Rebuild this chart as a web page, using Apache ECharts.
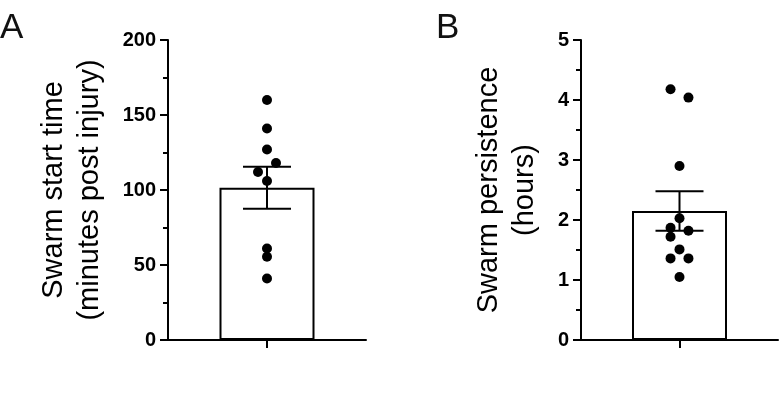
<!DOCTYPE html>
<html>
<head>
<meta charset="utf-8">
<script src="https://cdn.jsdelivr.net/npm/echarts@6/dist/echarts.min.js"></script>
<style>html,body{margin:0;padding:0;background:#fff}#c{width:779px;height:397px}</style>
</head>
<body>
<div id="c"></div>
<script>
// ---- Data ----
// Panel A: Swarm start time (minutes post injury)
const startTimeValues = [160, 141, 127, 118, 112, 106, 61, 55.5, 41];
const startTimeJitter = [0, 0, 0, 1, -1, 0, 0, 0, 0];
const startTimeMean = 101.5;
const startTimeSEM = 14;
const startTimeTicks = [0, 50, 100, 150, 200];

// Panel B: Swarm persistence (hours)
const persistValues = [4.18, 4.04, 2.9, 2.03, 1.87, 1.82, 1.72, 1.51, 1.36, 1.36, 1.05];
const persistJitter = [-1, 1, 0, 0, -1, 1, -1, 0, -1, 1, 0];
const persistMean = 2.15;
const persistSEM = 0.33;
const persistTicks = [0, 1, 2, 3, 4, 5];

const titleA = 'Swarm start time\n(minutes post injury)';
const titleB = 'Swarm persistence\n(hours)';
const categories = [''];

// ---- Chart ----
const FONT = '"Liberation Sans", Arial, Helvetica, sans-serif';
const chart = echarts.init(document.getElementById('c'), null, {renderer: 'canvas'});

function yAxisCfg(gridIndex, ticks, name, nameGap) {
  return {
    type: 'value', gridIndex: gridIndex,
    min: ticks[0], max: ticks[ticks.length - 1],
    interval: ticks[1] - ticks[0],
    name: name, nameLocation: 'middle', nameGap: nameGap, nameRotate: 90,
    nameTextStyle: {fontFamily: FONT, fontSize: 29, lineHeight: 36, color: '#000', align: 'center'},
    axisLine: {show: true, onZero: false, lineStyle: {color: '#000', width: 2}},
    axisTick: {show: true, length: 8, lineStyle: {color: '#000', width: 2}},
    minorTick: {show: true, splitNumber: 2, length: 5, lineStyle: {color: '#000', width: 2}},
    axisLabel: {fontFamily: FONT, fontSize: 20, fontWeight: 'bold', color: '#000', margin: 12},
    splitLine: {show: false}
  };
}
function xCatCfg(gridIndex) {
  return {
    type: 'category', gridIndex: gridIndex, data: categories,
    axisLine: {show: true, onZero: false, lineStyle: {color: '#000', width: 2}},
    axisTick: {show: true, alignWithLabel: true, length: 8, lineStyle: {color: '#000', width: 2}},
    axisLabel: {show: false}
  };
}
function xJitCfg(gridIndex) {
  return {type: 'value', gridIndex: gridIndex, min: -11, max: 11, show: false};
}
function errRender(sem) {
  return function (params, api) {
    const x = api.value(0), m = api.value(1);
    const top = api.coord([x, m + sem]);
    const bot = api.coord([x, m - sem]);
    const half = 24;
    const st = {stroke: '#000', lineWidth: 2};
    return {type: 'group', children: [
      {type: 'line', shape: {x1: top[0], y1: top[1], x2: bot[0], y2: bot[1]}, style: st},
      {type: 'line', shape: {x1: top[0] - half, y1: top[1], x2: top[0] + half, y2: top[1]}, style: st},
      {type: 'line', shape: {x1: bot[0] - half, y1: bot[1], x2: bot[0] + half, y2: bot[1]}, style: st}
    ]};
  };
}

const option = {
  animation: false,
  backgroundColor: '#fff',
  graphic: [
    {type: 'text', left: 0, top: 11, style: {text: 'A', font: '35px ' + FONT, fill: '#111'}},
    {type: 'text', left: 436, top: 11, style: {text: 'B', font: '35px ' + FONT, fill: '#111'}}
  ],
  grid: [
    {left: 168, top: 40, width: 198, height: 300},
    {left: 581, top: 40, width: 197, height: 300}
  ],
  xAxis: [xCatCfg(0), xJitCfg(0), xCatCfg(1), xJitCfg(1)],
  yAxis: [yAxisCfg(0, startTimeTicks, titleA, 60), yAxisCfg(1, persistTicks, titleB, 38)],
  series: [
    {type: 'bar', xAxisIndex: 0, yAxisIndex: 0, data: [startTimeMean], barWidth: 95,
     itemStyle: {color: '#fff', borderColor: '#000', borderWidth: 2}, z: 1},
    {type: 'custom', xAxisIndex: 0, yAxisIndex: 0, data: [[0, startTimeMean]],
     renderItem: errRender(startTimeSEM), z: 3},
    {type: 'scatter', xAxisIndex: 1, yAxisIndex: 0, symbolSize: 10,
     itemStyle: {color: '#000', opacity: 1}, z: 4,
     data: startTimeValues.map((v, i) => [startTimeJitter[i], v])},
    {type: 'bar', xAxisIndex: 2, yAxisIndex: 1, data: [persistMean], barWidth: 95,
     itemStyle: {color: '#fff', borderColor: '#000', borderWidth: 2}, z: 1},
    {type: 'custom', xAxisIndex: 2, yAxisIndex: 1, data: [[0, persistMean]],
     renderItem: errRender(persistSEM), z: 3},
    {type: 'scatter', xAxisIndex: 3, yAxisIndex: 1, symbolSize: 10,
     itemStyle: {color: '#000', opacity: 1}, z: 4,
     data: persistValues.map((v, i) => [persistJitter[i], v])}
  ]
};
chart.setOption(option);
</script>
</body>
</html>
